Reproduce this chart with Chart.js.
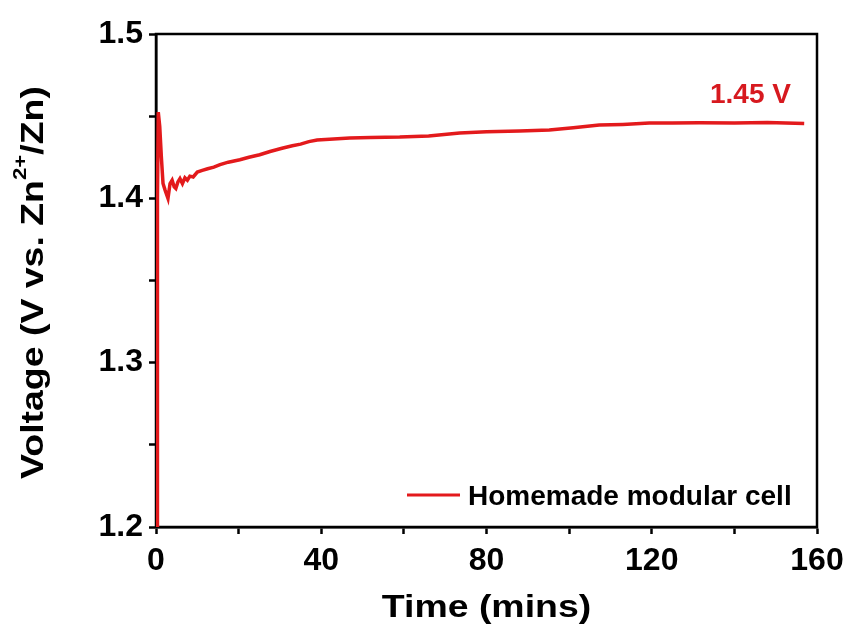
<!DOCTYPE html>
<html>
<head>
<meta charset="utf-8">
<script src="https://cdn.jsdelivr.net/npm/chart.js@4.4.1/dist/chart.umd.min.js"></script>
<style>
  html, body { margin: 0; padding: 0; background: #fff; }
  #wrap { position: relative; width: 855px; height: 630px; }
</style>
</head>
<body>
<div id="wrap"><canvas id="c"></canvas></div>
<script>
// time (mins) and cell voltage
const times = [0.25, 0.35, 0.55, 0.9, 1.3, 1.7, 2.2, 2.9, 3.4, 3.9, 4.4, 4.8, 5.3, 5.8, 6.4, 7.0, 7.6, 8.2, 9.0,
  10.0, 11.2, 12.5, 14.0, 15.5, 17.5, 20.3, 22.5, 25.1, 27.6, 30.5, 33.0, 35.0, 37.0, 39.0, 42.0, 46.9,
  52.0, 59.0, 66.0, 73.5, 80.0, 88.0, 95.2, 101.0, 107.3, 113.0, 119.4, 125.0, 131.5, 140.0, 148.0, 156.9];
const voltage = [1.19, 1.40, 1.4525, 1.444, 1.425, 1.409, 1.405, 1.400, 1.409, 1.411, 1.407, 1.406, 1.410, 1.412, 1.409, 1.4125, 1.411, 1.4135, 1.413,
  1.416, 1.417, 1.418, 1.419, 1.4205, 1.422, 1.4235, 1.425, 1.4265, 1.4285, 1.4305, 1.432, 1.433, 1.4345, 1.4355, 1.436, 1.4367,
  1.437, 1.4373, 1.438, 1.4397, 1.4405, 1.441, 1.4416, 1.443, 1.4446, 1.445, 1.4458, 1.4458, 1.446, 1.4458, 1.4462, 1.4455];
const seriesName = "Homemade modular cell";
const xTicks = [0, 40, 80, 120, 160];
const yTicks = [1.2, 1.3, 1.4, 1.5];

const RED = "#e31a1c";
const FONT = "'Liberation Sans', Arial, sans-serif";

// top/right frame goes under the trace
const frame = {
  id: "frame",
  beforeDatasetsDraw(chart) {
    const { ctx, chartArea: a } = chart;
    ctx.save();
    ctx.strokeStyle = "#000";
    ctx.lineWidth = 2.5;
    ctx.strokeRect(a.left, a.top, a.right - a.left, a.bottom - a.top);
    ctx.restore();
  }
};

// titles, legend and annotation
const decor = {
  id: "decor",
  afterDraw(chart) {
    const { ctx, chartArea: a } = chart;
    ctx.save();
    ctx.fillStyle = "#000";
    ctx.font = "bold 32px " + FONT;
    ctx.textBaseline = "alphabetic";

    // x title
    ctx.save();
    ctx.translate((a.left + a.right) / 2, 617);
    ctx.scale(1.17, 1);
    ctx.textAlign = "center";
    ctx.fillText("Time (mins)", 0, 0);
    ctx.restore();

    // y title with superscript
    ctx.save();
    ctx.translate(43, (a.top + a.bottom) / 2 + 2);
    ctx.rotate(-Math.PI / 2);
    ctx.scale(1.17, 1);
    const p1 = "Voltage (V vs. Zn", sup = "2+", p2 = "/Zn)";
    ctx.font = "bold 32px " + FONT;
    const w1 = ctx.measureText(p1).width, w3 = ctx.measureText(p2).width;
    ctx.font = "bold 19px " + FONT;
    const w2 = ctx.measureText(sup).width;
    let x = -(w1 + w2 + w3) / 2;
    ctx.textAlign = "left";
    ctx.font = "bold 32px " + FONT;
    ctx.fillText(p1, x, 0); x += w1;
    ctx.font = "bold 19px " + FONT;
    ctx.fillText(sup, x, -17); x += w2;
    ctx.font = "bold 32px " + FONT;
    ctx.fillText(p2, x, 0);
    ctx.restore();

    // legend
    ctx.strokeStyle = RED;
    ctx.lineWidth = 3;
    ctx.beginPath();
    ctx.moveTo(407, 495);
    ctx.lineTo(460, 495);
    ctx.stroke();
    ctx.font = "bold 28px " + FONT;
    ctx.textAlign = "left";
    ctx.fillText(seriesName, 468, 505);

    // end value label
    ctx.fillStyle = "#d7191f";
    ctx.fillText("1.45 V", 710, 103);
    ctx.restore();
  }
};

new Chart(document.getElementById("c"), {
  type: "line",
  data: {
    datasets: [{
      label: seriesName,
      data: times.map((t, i) => ({ x: t, y: voltage[i] })),
      borderColor: RED,
      borderWidth: 3.5,
      pointRadius: 0,
      tension: 0
    }]
  },
  options: {
    responsive: true,
    maintainAspectRatio: false,
    animation: false,
    layout: { padding: { top: 34, right: 38, left: 0, bottom: 0 } },
    plugins: { legend: { display: false }, tooltip: { enabled: false } },
    scales: {
      x: {
        type: "linear",
        min: 0, max: 160,
        afterFit: s => { s.height = 103; },
        border: { display: true, color: "#000", width: 2.5 },
        grid: { drawOnChartArea: false, drawTicks: true, tickLength: 7, tickWidth: 2.5, tickColor: "#000" },
        ticks: {
          stepSize: 20, padding: 8, color: "#000",
          font: { family: FONT, size: 32, weight: "bold" },
          callback: v => xTicks.includes(v) ? String(v) : ""
        }
      },
      y: {
        min: 1.2, max: 1.5,
        afterFit: s => { s.width = 156; },
        border: { display: true, color: "#000", width: 2.5 },
        grid: { drawOnChartArea: false, drawTicks: true, tickLength: 7, tickWidth: 2.5, tickColor: "#000" },
        ticks: {
          stepSize: 0.05, padding: 6, color: "#000",
          font: { family: FONT, size: 32, weight: "bold" },
          callback: v => yTicks.some(t => Math.abs(t - v) < 1e-6) ? v.toFixed(1) : ""
        }
      }
    }
  },
  plugins: [frame, decor]
});
</script>
</body>
</html>
